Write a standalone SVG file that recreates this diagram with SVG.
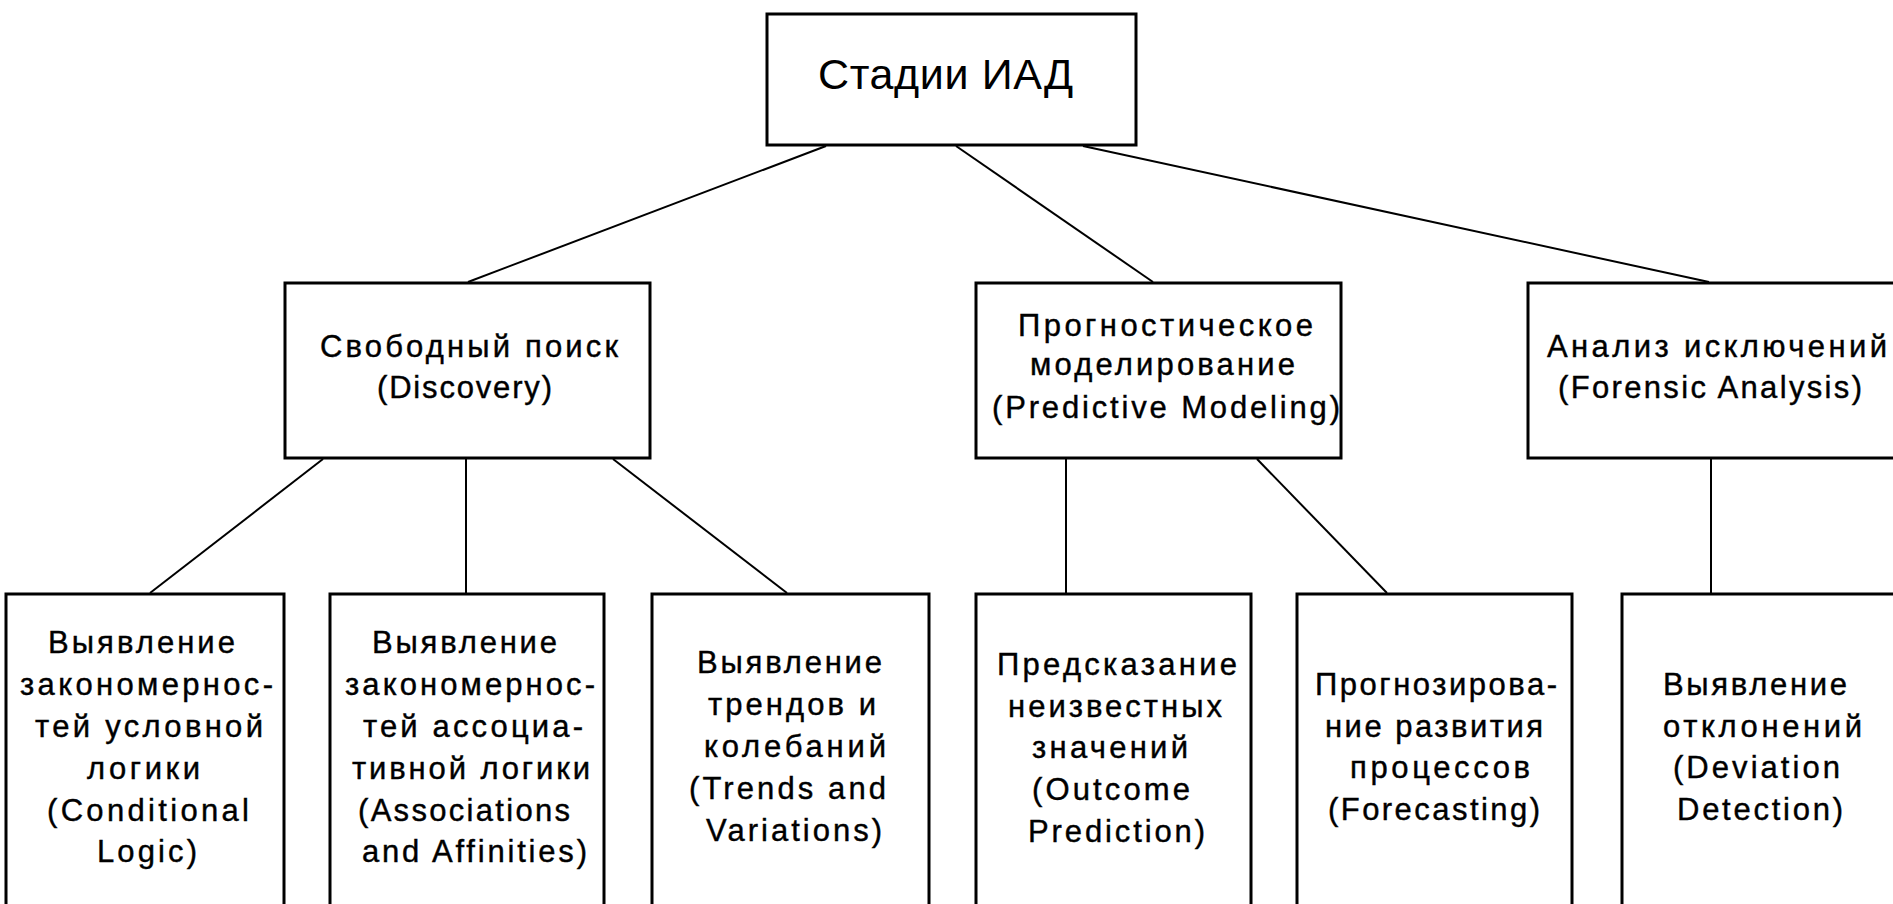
<svg xmlns="http://www.w3.org/2000/svg" width="1893" height="904" viewBox="0 0 1893 904">
<style>
.box{fill:#fff;stroke:#000;stroke-width:3}
.t{font-family:"Liberation Sans",Arial,sans-serif;font-size:31px;fill:#000;stroke:#000;stroke-width:0.4}
.title{font-family:"Liberation Sans",Arial,sans-serif;font-size:43px;fill:#000}
.c{stroke:#000;stroke-width:2;fill:none}
</style>
<rect x="0" y="0" width="1893" height="904" fill="#fff"/>
<g id="connectors">
<line class="c" x1="826" y1="146" x2="468" y2="282"/>
<line class="c" x1="956" y1="146" x2="1153" y2="282"/>
<line class="c" x1="1083" y1="146" x2="1709" y2="282"/>
<line class="c" x1="323" y1="459" x2="150" y2="593"/>
<line class="c" x1="466" y1="459" x2="466" y2="593"/>
<line class="c" x1="613" y1="459" x2="787" y2="593"/>
<line class="c" x1="1066" y1="459" x2="1066" y2="593"/>
<line class="c" x1="1257" y1="459" x2="1387" y2="593"/>
<line class="c" x1="1711" y1="459" x2="1711" y2="593"/>
</g>
<g id="root">
<rect class="box" x="767" y="14" width="369" height="131"/>
<text class="title" x="818" y="89" textLength="255" lengthAdjust="spacing">Стадии ИАД</text>
</g>
<g id="discovery">
<rect class="box" x="285" y="283" width="365" height="175"/>
<text class="t" x="320" y="357" textLength="298" lengthAdjust="spacing">Свободный поиск</text>
<text class="t" x="377" y="398" textLength="175" lengthAdjust="spacing">(Discovery)</text>
</g>
<g id="predictive">
<rect class="box" x="976" y="283" width="365" height="175"/>
<text class="t" x="1018" y="336" textLength="295" lengthAdjust="spacing">Прогностическое</text>
<text class="t" x="1030" y="375" textLength="265" lengthAdjust="spacing">моделирование</text>
<text class="t" x="992" y="418" textLength="348" lengthAdjust="spacing">(Predictive Modeling)</text>
</g>
<g id="forensic">
<rect class="box" x="1528" y="283" width="400" height="175"/>
<text class="t" x="1547" y="357" textLength="340" lengthAdjust="spacing">Анализ исключений</text>
<text class="t" x="1558" y="398" textLength="304" lengthAdjust="spacing">(Forensic Analysis)</text>
</g>
<g id="conditional">
<rect class="box" x="6" y="594" width="278" height="400"/>
<text class="t" x="48" y="653" textLength="187" lengthAdjust="spacing">Выявление</text>
<text class="t" x="20" y="695" textLength="253" lengthAdjust="spacing">закономернос-</text>
<text class="t" x="35" y="737" textLength="228" lengthAdjust="spacing">тей условной</text>
<text class="t" x="87" y="779" textLength="113" lengthAdjust="spacing">логики</text>
<text class="t" x="47" y="821" textLength="202" lengthAdjust="spacing">(Conditional</text>
<text class="t" x="97" y="862" textLength="100" lengthAdjust="spacing">Logic)</text>
</g>
<g id="associations">
<rect class="box" x="330" y="594" width="274" height="400"/>
<text class="t" x="372" y="653" textLength="185" lengthAdjust="spacing">Выявление</text>
<text class="t" x="345" y="695" textLength="250" lengthAdjust="spacing">закономернос-</text>
<text class="t" x="363" y="737" textLength="220" lengthAdjust="spacing">тей ассоциа-</text>
<text class="t" x="352" y="779" textLength="238" lengthAdjust="spacing">тивной логики</text>
<text class="t" x="358" y="821" textLength="212" lengthAdjust="spacing">(Associations</text>
<text class="t" x="362" y="862" textLength="225" lengthAdjust="spacing">and Affinities)</text>
</g>
<g id="trends">
<rect class="box" x="652" y="594" width="277" height="400"/>
<text class="t" x="697" y="673" textLength="185" lengthAdjust="spacing">Выявление</text>
<text class="t" x="708" y="715" textLength="168" lengthAdjust="spacing">трендов и</text>
<text class="t" x="704" y="757" textLength="182" lengthAdjust="spacing">колебаний</text>
<text class="t" x="689" y="799" textLength="197" lengthAdjust="spacing">(Trends and</text>
<text class="t" x="706" y="841" textLength="176" lengthAdjust="spacing">Variations)</text>
</g>
<g id="outcome">
<rect class="box" x="976" y="594" width="275" height="400"/>
<text class="t" x="997" y="675" textLength="240" lengthAdjust="spacing">Предсказание</text>
<text class="t" x="1008" y="717" textLength="214" lengthAdjust="spacing">неизвестных</text>
<text class="t" x="1032" y="758" textLength="156" lengthAdjust="spacing">значений</text>
<text class="t" x="1032" y="800" textLength="158" lengthAdjust="spacing">(Outcome</text>
<text class="t" x="1028" y="842" textLength="177" lengthAdjust="spacing">Prediction)</text>
</g>
<g id="forecasting">
<rect class="box" x="1297" y="594" width="275" height="400"/>
<text class="t" x="1315" y="695" textLength="242" lengthAdjust="spacing">Прогнозирова-</text>
<text class="t" x="1325" y="737" textLength="218" lengthAdjust="spacing">ние развития</text>
<text class="t" x="1350" y="778" textLength="180" lengthAdjust="spacing">процессов</text>
<text class="t" x="1328" y="820" textLength="212" lengthAdjust="spacing">(Forecasting)</text>
</g>
<g id="deviation">
<rect class="box" x="1622" y="594" width="400" height="400"/>
<text class="t" x="1663" y="695" textLength="184" lengthAdjust="spacing">Выявление</text>
<text class="t" x="1663" y="737" textLength="199" lengthAdjust="spacing">отклонений</text>
<text class="t" x="1673" y="778" textLength="167" lengthAdjust="spacing">(Deviation</text>
<text class="t" x="1677" y="820" textLength="166" lengthAdjust="spacing">Detection)</text>
</g>
</svg>
